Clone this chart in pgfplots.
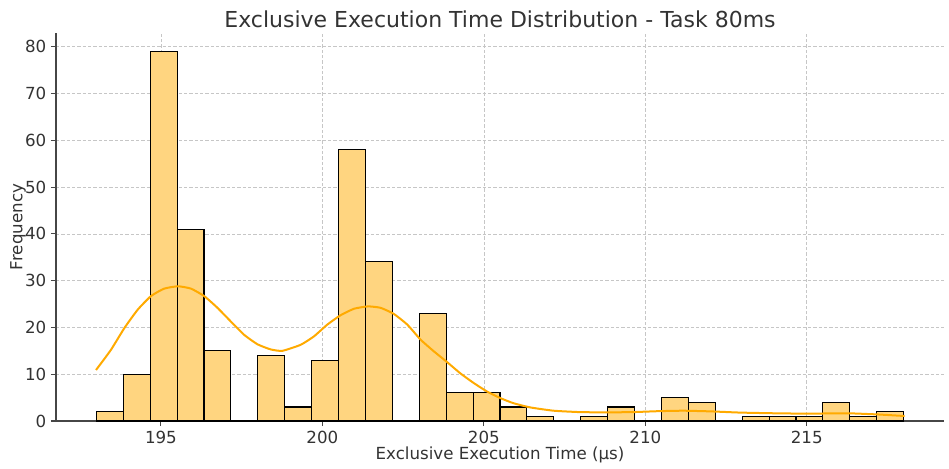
\documentclass[border=0pt]{standalone}
\usepackage{pgfplots}
\pgfplotsset{compat=1.18}
\usepackage{fontspec}
\setmainfont{DejaVu Sans}

\definecolor{barfill}{RGB}{255,213,128}
\definecolor{kdeline}{RGB}{255,170,0}
\definecolor{txt}{RGB}{51,51,51}
\definecolor{spine}{RGB}{70,70,70}

\begin{document}
\begin{tikzpicture}
\begin{axis}[
  scale only axis,
  width=666pt, height=291pt,
  xmin=191.75, xmax=219.25,
  ymin=0, ymax=82.95,
  axis x line*=bottom,
  axis y line*=left,
  axis line style={spine, line width=0.9pt},
  xtick={195,200,205,210,215},
  ytick={0,10,20,30,40,50,60,70,80},
  tick align=outside,
  major tick length=3.75pt,
  tick style={spine, line width=0.8pt},
  /pgf/number format/assume math mode=true,
  ticklabel style={font=\fontsize{12.5}{14}\selectfont, text=txt},
  grid=major,
  major grid style={gray!45, line width=0.5pt, dash pattern=on 2.5pt off 1.5pt},
  xlabel={Exclusive Execution Time (µs)},
  ylabel={Frequency},
  label style={font=\fontsize{12.5}{14}\selectfont, text=txt},
  xlabel style={yshift=4pt},
  ylabel style={yshift=-7.5pt},
  title={Exclusive Execution Time Distribution - Task 80ms},
  title style={font=\fontsize{16.5}{19}\selectfont, text=txt, yshift=-6pt},
  clip=false,
]
% histogram: 30 bins of width 25/30 between 193 and 218
\addplot[ybar interval, fill=barfill, draw=black, line width=0.8pt] coordinates {
  (193.0000,2) (193.8333,10) (194.6667,79) (195.5000,41) (196.3333,15)
  (197.1667,0) (198.0000,14) (198.8333,3) (199.6667,13) (200.5000,58)
  (201.3333,34) (202.1667,0) (203.0000,23) (203.8333,6) (204.6667,6)
  (205.5000,3) (206.3333,1) (207.1667,0) (208.0000,1) (208.8333,3)
  (209.6667,0) (210.5000,5) (211.3333,4) (212.1667,0) (213.0000,1)
  (213.8333,1) (214.6667,1) (215.5000,4) (216.3333,1) (217.1667,2)
  (218.0000,2)
};
% kernel density estimate, scaled to counts
\addplot[kdeline, line width=1.5pt, smooth, tension=0.3] coordinates {
  (192.99,10.9) (193.45,15.2) (193.87,19.9) (194.28,23.8) (194.69,26.7)
  (195.10,28.3) (195.53,28.8) (195.93,28.3) (196.34,26.7) (196.75,24.2)
  (197.16,21.3) (197.58,18.4) (197.99,16.4) (198.40,15.3) (198.76,15.0)
  (199.33,16.3) (199.74,18.1) (200.15,20.6) (200.56,22.6) (200.98,24.0)
  (201.41,24.5) (201.80,24.2) (202.21,22.9) (202.63,20.6) (203.04,17.4)
  (203.45,14.9) (203.86,12.6) (204.27,10.2) (204.69,8.1) (205.10,6.3)
  (205.51,4.9) (205.92,3.8) (206.44,2.9) (207.16,2.2) (207.98,1.9)
  (208.81,1.85) (209.60,1.9) (210.40,2.1) (211.18,2.2) (212.05,2.05)
  (212.93,1.8) (214.00,1.65) (214.99,1.57) (215.70,1.62) (216.33,1.64)
  (217.20,1.4) (218.03,1.07)
};
\end{axis}
\path[use as bounding box] (-42pt,-35.25pt) rectangle (669.75pt,315.75pt);
\end{tikzpicture}
\end{document}
